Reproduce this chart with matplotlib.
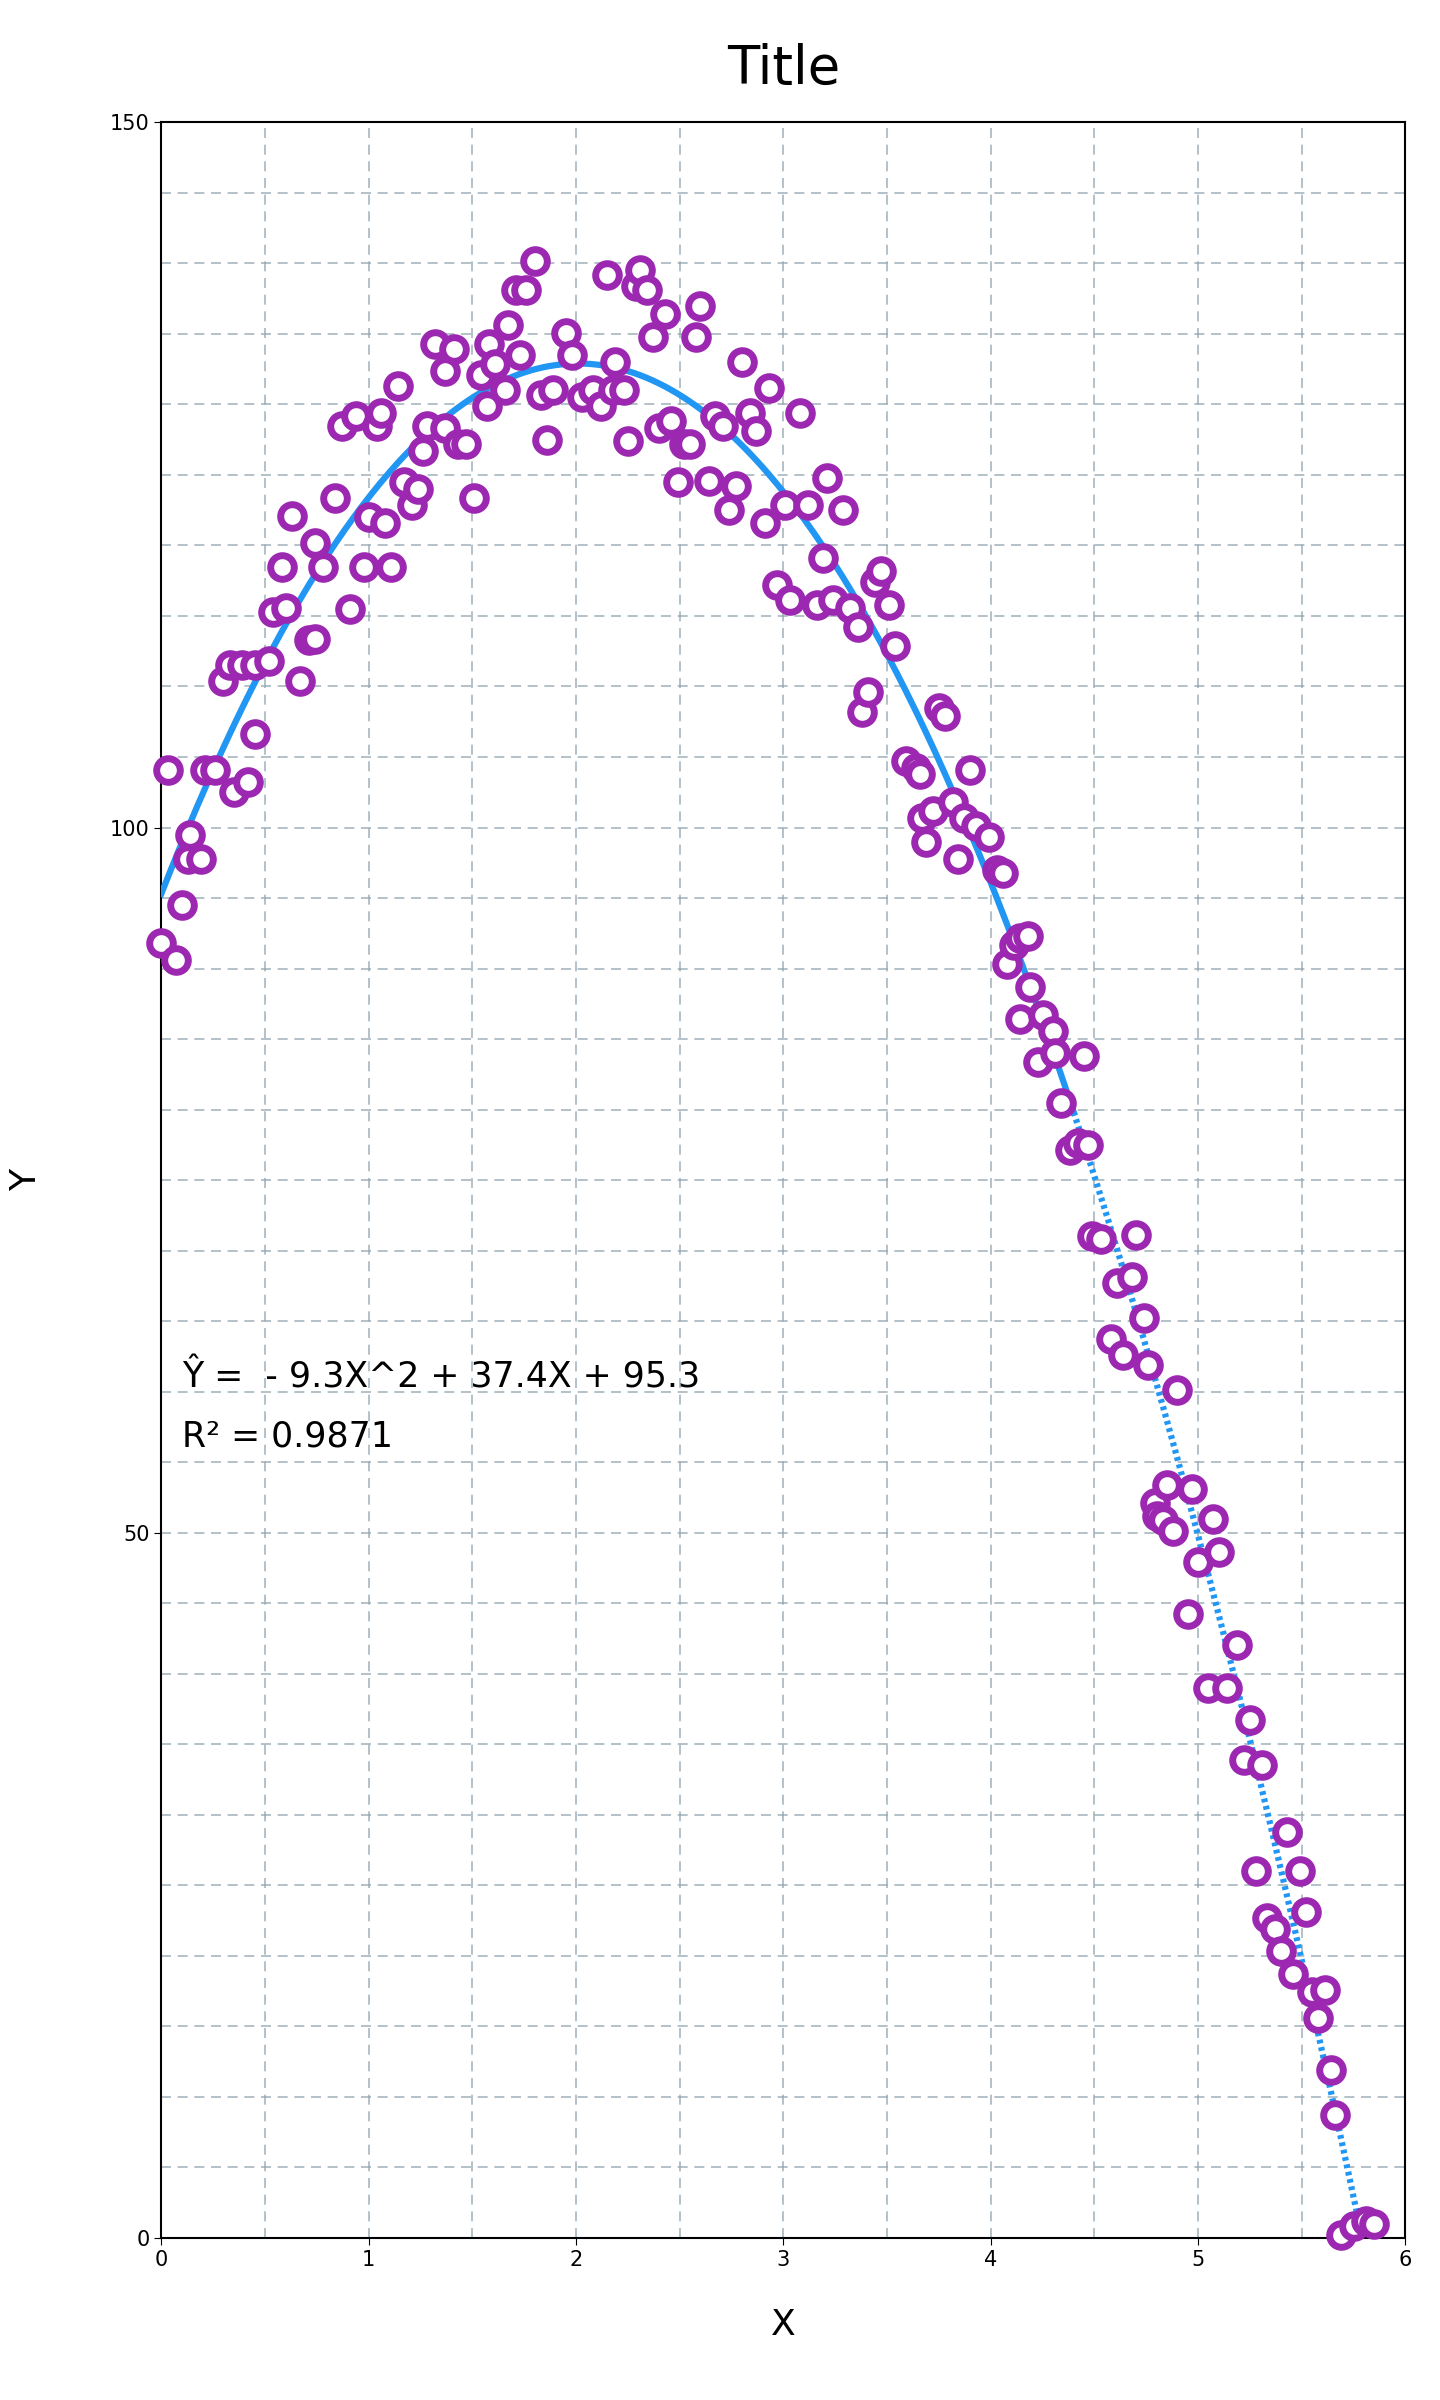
import matplotlib
matplotlib.use("Agg")
import matplotlib.pyplot as plt
import numpy as np

x_vals = [0.00, 0.07, 0.03, 0.10, 0.14, 0.13, 0.19, 0.21, 0.26, 0.30, 0.33, 0.39, 0.45, 0.35, 0.42,
          0.45, 0.52, 0.54, 0.58, 0.60, 0.63, 0.67, 0.71, 0.74, 0.74, 0.78, 0.84, 0.87, 0.94, 1.04,
          1.06, 0.91, 0.98, 1.00, 1.08, 1.11, 1.14, 1.17, 1.21, 1.24, 1.26, 1.28, 1.32, 1.37, 1.41,
          1.37, 1.43, 1.47, 1.51, 1.54, 1.57, 1.58, 1.61, 1.66, 1.67, 1.71, 1.73, 1.76, 1.80, 1.83,
          1.86, 1.89, 1.95, 1.98, 2.03, 2.08, 2.12, 2.15, 2.18, 2.19, 2.23, 2.25, 2.29, 2.31, 2.34,
          2.37, 2.40, 2.43, 2.46, 2.49, 2.52, 2.55, 2.60, 2.58, 2.64, 2.67, 2.71, 2.74, 2.77, 2.80,
          2.84, 2.87, 2.91, 2.93, 2.97, 3.01, 3.03, 3.08, 3.12, 3.16, 3.19, 3.21, 3.24, 3.29, 3.32,
          3.36, 3.38, 3.41, 3.44, 3.47, 3.51, 3.54, 3.59, 3.64, 3.66, 3.67, 3.69, 3.72, 3.75, 3.78,
          3.82, 3.84, 3.87, 3.90, 3.93, 3.99, 4.03, 4.06, 4.08, 4.11, 4.14, 4.18, 4.14, 4.19, 4.23,
          4.25, 4.30, 4.31, 4.34, 4.38, 4.42, 4.45, 4.47, 4.49, 4.53, 4.58, 4.61, 4.64, 4.68, 4.70,
          4.74, 4.76, 4.79, 4.80, 4.83, 4.85, 4.88, 4.90, 4.95, 4.97, 5.00, 5.05, 5.07, 5.10, 5.14,
          5.19, 5.22, 5.25, 5.28, 5.31, 5.33, 5.37, 5.40, 5.43, 5.46, 5.49, 5.52, 5.55, 5.58, 5.61,
          5.64, 5.66, 5.69, 5.75, 5.81, 5.85]
y_vals = [91.8, 90.6, 104.1, 94.5, 99.5, 97.8, 97.8, 104.1, 104.1, 110.4, 111.5, 111.5, 111.5, 102.5, 103.2,
          106.6, 111.8, 115.3, 118.5, 115.6, 122.1, 110.4, 113.3, 113.4, 120.2, 118.5, 123.4, 128.5, 129.2, 128.5,
          129.4, 115.5, 118.5, 122.0, 121.6, 118.5, 131.3, 124.5, 122.9, 124.0, 126.7, 128.5, 134.3, 132.4, 133.9,
          128.3, 127.2, 127.2, 123.4, 132.1, 129.9, 134.3, 132.9, 131.0, 135.6, 138.1, 133.5, 138.1, 140.2, 130.7,
          127.5, 131.0, 135.1, 133.5, 130.5, 131.0, 129.9, 139.2, 131.0, 133.0, 131.0, 127.4, 138.4, 139.5, 138.1,
          134.8, 128.3, 136.4, 128.8, 124.5, 127.2, 127.2, 137.0, 134.8, 124.6, 129.2, 128.5, 122.5, 124.2, 133.0,
          129.4, 128.1, 121.6, 131.2, 117.2, 122.9, 116.1, 129.4, 122.9, 115.8, 119.1, 124.8, 116.1, 122.5, 115.6,
          114.2, 108.2, 109.6, 117.4, 118.2, 115.8, 112.9, 104.7, 104.2, 103.8, 100.7, 99.0, 101.2, 108.5, 107.9,
          101.8, 97.8, 100.7, 104.1, 100.1, 99.3, 97.0, 96.8, 90.3, 91.7, 92.2, 92.3, 86.4, 88.7, 83.4,
          86.7, 85.6, 84.0, 80.5, 77.1, 77.6, 83.8, 77.5, 71.0, 70.8, 63.7, 67.7, 62.6, 68.1, 71.1,
          65.2, 61.9, 52.1, 51.2, 50.9, 53.4, 50.1, 60.1, 44.2, 53.1, 47.9, 39.0, 51.0, 48.6, 39.0,
          42.0, 33.9, 36.7, 26.0, 33.5, 22.7, 21.9, 20.3, 28.8, 18.7, 26.0, 23.1, 17.4, 15.6, 17.6,
          11.9, 8.7, 0.2, 0.8, 1.2, 1.0]

coef = [-9.3, 37.4, 95.3]
r2 = 0.9871

fig = plt.figure(figsize=(14.4, 24), dpi=100)
ax = fig.add_axes([0.112, 0.0676, 0.864, 0.8814])

ax.set_xlim(0, 6)
ax.set_ylim(0, 150)
ax.set_xticks(np.arange(0, 7, 1))
ax.set_yticks([0, 50, 100, 150])
ax.set_xticks(np.arange(0.5, 6, 1), minor=True)
ax.set_yticks(np.arange(5, 150, 5), minor=True)
ax.grid(which="both", color="#90a4ae", linestyle=(0, (6, 4)), linewidth=1.2, alpha=0.8)
ax.tick_params(which="minor", length=0)
ax.tick_params(which="major", labelsize=15, length=5)
ax.set_axisbelow(True)
for s in ax.spines.values():
    s.set_linewidth(1.5)

# fitted curve: solid through the body, dotted on the steep tail
root = (-coef[1] - np.sqrt(coef[1] ** 2 - 4 * coef[0] * coef[2])) / (2 * coef[0])
xs = np.linspace(0, 4.4, 300)
ax.plot(xs, np.polyval(coef, xs), color="#2196F3", linewidth=4.5, zorder=3)
xd = np.linspace(4.4, root, 200)
ax.plot(xd, np.polyval(coef, xd), color="#2196F3", linewidth=4.5,
        linestyle=(0, (0.6, 0.6)), zorder=3)

ax.plot(x_vals, y_vals, linestyle="none", marker="o", markersize=17,
        markerfacecolor="white", markeredgecolor="#9C27B0", markeredgewidth=5, zorder=4,
        clip_on=False)

ax.text(0.1, 61, f"Ŷ =  - {abs(coef[0])}X^2 + {coef[1]}X + {coef[2]}", fontsize=25, va="center")
ax.text(0.1, 56.8, f"R² = {r2}", fontsize=25, va="center")

ax.set_title("Title", fontsize=38, pad=28)
ax.set_xlabel("X", fontsize=26, labelpad=28)
ax.set_ylabel("Y", fontsize=26, labelpad=48)

fig.savefig("out.png", dpi=100)
